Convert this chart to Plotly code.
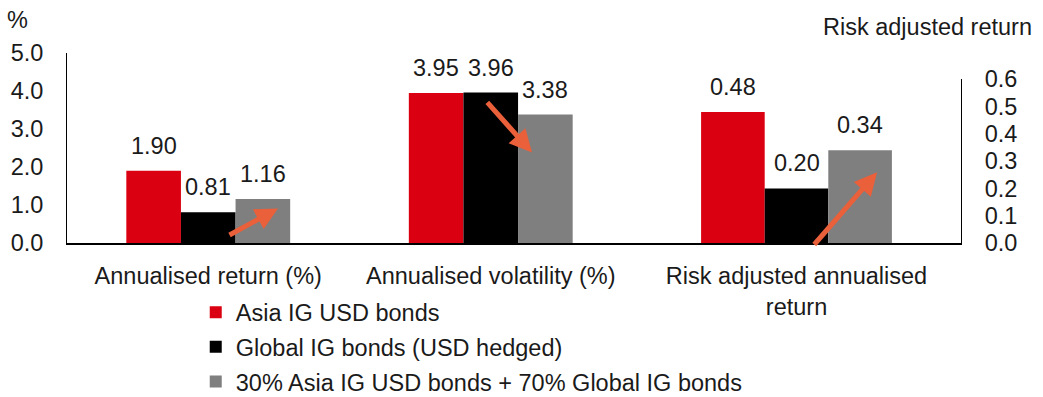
import plotly.graph_objects as go

# ---- data ----
series_names = ["Asia IG USD bonds", "Global IG bonds (USD hedged)",
                "30% Asia IG USD bonds + 70% Global IG bonds"]
series_colors = ["#DB0011", "#000000", "#7F7F7F"]
left_categories = ["Annualised return (%)", "Annualised volatility (%)"]
right_categories = ["Risk adjusted annualised<br>return"]
asia_left = [1.90, 3.95]
global_left = [0.81, 3.96]
mix_left = [1.16, 3.38]
asia_right = [0.48]
global_right = [0.20]
mix_right = [0.34]
left_ticks = [0, 1, 2, 3, 4, 5]
right_ticks = [0, 0.1, 0.2, 0.3, 0.4, 0.5, 0.6]
# arrows: (tail, head) in data units of each subplot: (cat index + offset, value)
arrow_left = [((0.07, 0.19), (0.247, 0.91)), ((0.983, 3.74), (1.146, 2.38))]
arrow_right = [((0.05, -0.011), (0.245, 0.259))]

FONT = "Liberation Sans, Arial, sans-serif"
FS = 23.5
TXT = "#1a1a1a"
ORANGE = "#E9603A"
BARGAP = 0.42
bw = (1 - BARGAP) / 3

left_vals = [asia_left, global_left, mix_left]
right_vals = [asia_right, global_right, mix_right]

fig = go.Figure()
for i, name in enumerate(series_names):
    fig.add_trace(go.Bar(x=list(range(len(left_categories))), y=left_vals[i], name=name,
                         marker_color=series_colors[i], marker_line_width=0,
                         xaxis="x", yaxis="y", legendgroup=str(i), offsetgroup=str(i)))
for i, name in enumerate(series_names):
    fig.add_trace(go.Bar(x=list(range(len(right_categories))), y=right_vals[i], name=name,
                         marker_color=series_colors[i], marker_line_width=0,
                         xaxis="x2", yaxis="y2", legendgroup=str(i), offsetgroup=str(i),
                         showlegend=False))

annotations = []
for i in range(3):
    for j, v in enumerate(left_vals[i]):
        annotations.append(dict(x=j + (i - 1) * bw, y=v, xref="x", yref="y", text=f"{v:.2f}",
                                showarrow=False, yanchor="bottom", yshift=10,
                                font=dict(family=FONT, size=FS, color=TXT)))
    for j, v in enumerate(right_vals[i]):
        annotations.append(dict(x=j + (i - 1) * bw, y=v, xref="x2", yref="y2", text=f"{v:.2f}",
                                showarrow=False, yanchor="bottom", yshift=10,
                                font=dict(family=FONT, size=FS, color=TXT)))

for (tail, head) in arrow_left:
    annotations.append(dict(x=head[0], y=head[1], ax=tail[0], ay=tail[1], xref="x", yref="y",
                            axref="x", ayref="y", text="", showarrow=True, arrowhead=2,
                            arrowsize=0.9, arrowwidth=5, arrowcolor=ORANGE))
for (tail, head) in arrow_right:
    annotations.append(dict(x=head[0], y=head[1], ax=tail[0], ay=tail[1], xref="x2", yref="y2",
                            axref="x2", ayref="y2", text="", showarrow=True, arrowhead=2,
                            arrowsize=0.9, arrowwidth=5, arrowcolor=ORANGE))

annotations.append(dict(x=-0.0559, y=1.1737, xref="paper", yref="paper", text="%",
                        showarrow=False, xanchor="center", yanchor="middle",
                        font=dict(family=FONT, size=FS, color=TXT)))
annotations.append(dict(x=1.0817, y=1.137, xref="paper", yref="paper", text="Risk adjusted return",
                        showarrow=False, xanchor="right", yanchor="middle",
                        font=dict(family=FONT, size=FS, color=TXT)))

split = 565 / 894
fig.update_layout(
    width=1043, height=397,
    margin=dict(l=67, r=82, t=53, b=154, autoexpand=False),
    paper_bgcolor="white", plot_bgcolor="white",
    barmode="group", bargap=BARGAP, bargroupgap=0,
    font=dict(family=FONT, size=FS, color=TXT),
    showlegend=True,
    legend=dict(x=0.1440, y=-0.25, xanchor="left", yanchor="top", orientation="v",
                font=dict(family=FONT, size=FS, color=TXT), tracegroupgap=1,
                bgcolor="rgba(0,0,0,0)"),
    xaxis=dict(domain=[0, split], range=[-0.5, 1.5], anchor="y", automargin=False,
               tickmode="array", tickvals=list(range(len(left_categories))), ticktext=left_categories,
               showline=True, linecolor="black", linewidth=2, showgrid=False, zeroline=False,
               ticks="", ticklabelstandoff=11, tickfont=dict(family=FONT, size=FS, color=TXT)),
    xaxis2=dict(domain=[split, 1], range=[-0.5, 0.5], anchor="y2", automargin=False,
                tickmode="array", tickvals=list(range(len(right_categories))), ticktext=right_categories,
                showline=True, linecolor="black", linewidth=2, showgrid=False, zeroline=False,
                ticks="", ticklabelstandoff=11, tickfont=dict(family=FONT, size=FS, color=TXT)),
    yaxis=dict(domain=[0, 1], range=[0, 5], anchor="x", tickmode="array", tickvals=left_ticks,
               tickformat=".1f", showline=True, linecolor="black", linewidth=1, showgrid=False,
               zeroline=False, ticks="", ticklabelstandoff=18, automargin=False,
               tickfont=dict(family=FONT, size=FS, color=TXT)),
    yaxis2=dict(domain=[0, 163.75 / 190], range=[0, 0.6], anchor="x2", side="right",
                tickmode="array", tickvals=right_ticks, tickformat=".1f", automargin=False,
                showline=True, linecolor="black", linewidth=1, showgrid=False, zeroline=False,
                ticks="", ticklabelstandoff=18, tickfont=dict(family=FONT, size=FS, color=TXT)),
    annotations=annotations,
)

fig.write_html("out.html", config={"displayModeBar": False},
               post_script="document.body.style.margin='0';document.body.style.overflow='hidden';")
